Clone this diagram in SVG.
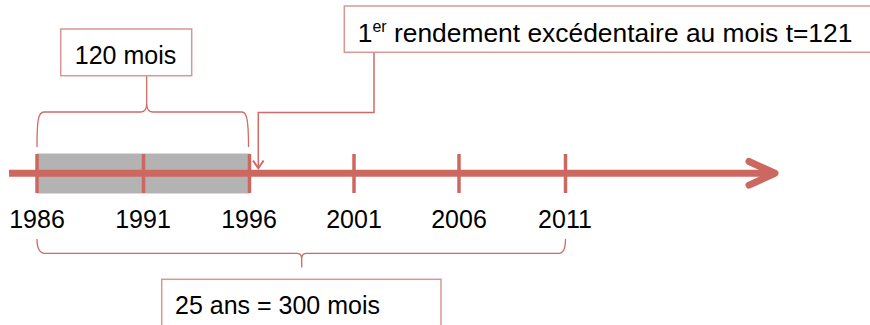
<svg xmlns="http://www.w3.org/2000/svg" width="870" height="325" viewBox="0 0 870 325">
  <style>
    .box { fill: #ffffff; stroke: #d99694; stroke-width: 1.5; }
    .txt { font-family: "Liberation Sans", Arial, sans-serif; font-size: 25px; fill: #000000; }
    .year { font-family: "Liberation Sans", Arial, sans-serif; font-size: 25px; fill: #000000; text-anchor: middle; }
    .brace { fill: none; stroke: #cf6b66; stroke-width: 1.3; }
    .axis { fill: none; stroke: #cd6861; stroke-width: 7; }
    .tick { stroke: #cd6861; stroke-width: 3.5; }
  </style>
  <rect width="870" height="325" fill="#ffffff"/>

  <g id="timeline">
    <rect x="37" y="153.5" width="212.5" height="40" fill="#b3b3b3"/>
    <line class="axis" x1="9" y1="173.3" x2="770" y2="173.3"/>
    <polyline class="axis" points="749,161.5 775,173.3 749,185.1" stroke-linecap="round" stroke-linejoin="round"/>
    <line class="tick" x1="37" y1="154" x2="37" y2="193"/>
    <line class="tick" x1="143.5" y1="154" x2="143.5" y2="193"/>
    <line class="tick" x1="249.5" y1="154" x2="249.5" y2="193"/>
    <line class="tick" x1="354" y1="154" x2="354" y2="193"/>
    <line class="tick" x1="459" y1="154" x2="459" y2="193"/>
    <line class="tick" x1="565.5" y1="154" x2="565.5" y2="193"/>
  </g>

  <g id="years">
    <text class="year" x="37" y="228">1986</text>
    <text class="year" x="143" y="228">1991</text>
    <text class="year" x="249" y="228">1996</text>
    <text class="year" x="354" y="228">2001</text>
    <text class="year" x="459" y="228">2006</text>
    <text class="year" x="565" y="228">2011</text>
  </g>

  <g id="connectors">
    <path class="brace" d="M37,147 C37,121 38,112 44,112 L141,112 C145,112 146.7,108.5 146.7,103 C146.7,108.5 148.4,112 152.4,112 L242,112 C247,112 248.5,121 248.5,147"/>
    <path class="brace" d="M146.7,103 V76"/>
    <path class="brace" d="M37,239 C37,248.5 39,253.3 45,253.3 L297,253.3 C300,253.3 301.7,255.5 301.7,259 C301.7,255.5 303.4,253.3 306.4,253.3 L559,253.3 C564,253.3 565.5,248.5 565.5,239"/>
    <path class="brace" d="M301.7,259 V267.5"/>
    <path fill="none" stroke="#cf6b66" stroke-width="1.5" d="M374,52.3 V112.5 H258.3 V168"/>
    <path fill="none" stroke="#cf6b66" stroke-width="2" d="M253,160.5 L258.3,168.3 L263.6,160.5"/>
  </g>

  <g id="box-120">
    <rect class="box" x="60.7" y="29" width="131" height="46.7"/>
    <text class="txt" x="125.5" y="64" text-anchor="middle">120 mois</text>
  </g>

  <g id="box-first">
    <rect class="box" x="344.3" y="6" width="540" height="46.3"/>
    <text class="txt" x="357.7" y="41.7" style="font-size:26.4px">1<tspan dy="-10" style="font-size:16px">er</tspan><tspan dy="10"> rendement excédentaire au mois t=121</tspan></text>
  </g>

  <g id="box-25">
    <rect class="box" x="161.7" y="279.3" width="279.3" height="60"/>
    <text class="txt" x="175" y="314">25 ans = 300 mois</text>
  </g>
</svg>
